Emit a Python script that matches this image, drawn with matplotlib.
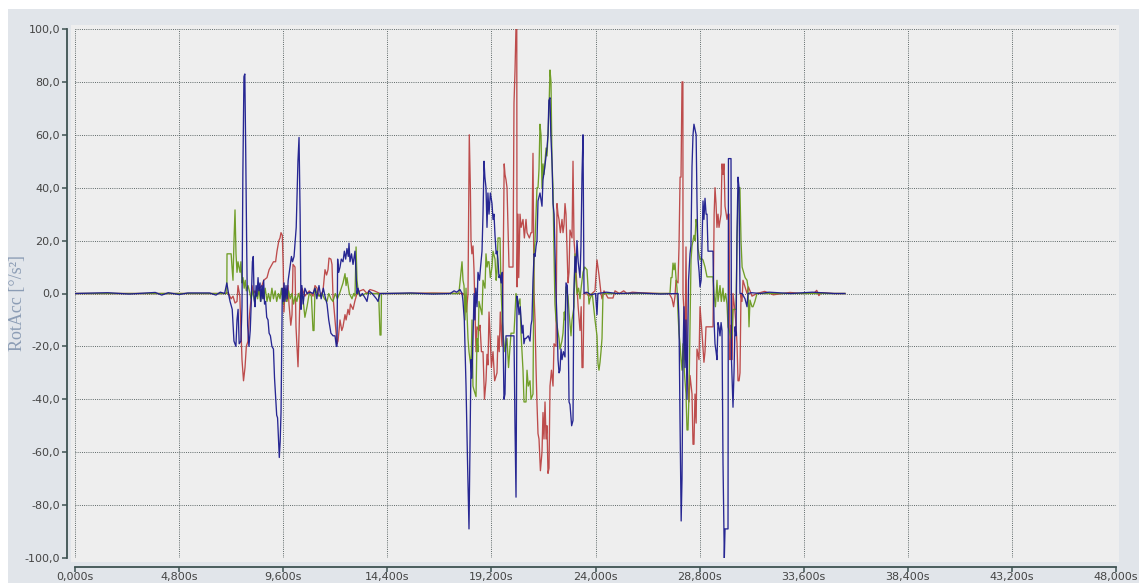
import matplotlib
matplotlib.use("Agg")
import matplotlib.pyplot as plt
from matplotlib.patches import Rectangle
from matplotlib.ticker import FuncFormatter
import numpy as np

# ---------------- data (time [s], RotAcc [deg/s^2]) ----------------
blue_base = [(0, 0), (1500, 0.3), (2500, -0.2), (3700, 0.4), (4000, -0.6), (4300, 0.3),
             (4800, -0.4), (5200, 0.2), (6200, 0.2), (6500, -0.6), (6700, 0.5), (6900, 0)]
blue_b1 = [(7000, 4), (7100, -1), (7150, -3), (7250, -6), (7330, -18), (7420, -20), (7470, -10),
           (7520, -6), (7570, -19), (7650, -18), (7700, -5), (7740, 45), (7790, 82), (7830, 83),
           (7870, 55), (7920, 15), (7960, -12), (8020, -20), (8080, -14), (8120, -5), (8180, 12),
           (8220, 14), (8260, -2), (8300, -5), (8350, 3), (8390, -1), (8440, 6), (8480, 1),
           (8530, 4), (8570, -3), (8620, 3), (8660, -2), (8700, 5), (8740, -4), (8790, -3),
           (8840, -9), (8900, -10), (8950, -15), (9010, -16), (9080, -20), (9150, -21),
           (9200, -32), (9260, -40), (9300, -46), (9340, -47), (9380, -55), (9420, -62),
           (9460, -56), (9500, -45), (9530, -20), (9560, 2), (9600, -3), (9640, 4), (9680, -3),
           (9730, 3), (9780, -2), (9830, 5), (9880, 8), (9930, 11), (9980, 14), (10030, 12),
           (10100, 14), (10200, 25), (10280, 50), (10330, 59), (10380, 30), (10420, -6),
           (10460, 3), (10520, -4), (10600, 2), (10700, 0), (10850, 0.5), (10974, 0),
           (11066, 2), (11150, -2), (11250, 3), (11350, -2), (11450, 2), (11528, -1),
           (11620, -4), (11700, -10), (11800, -15), (11900, -16), (11989, -16), (12050, -20),
           (12081, -20), (12110, 13), (12160, 8), (12219, 10), (12280, 13), (12357, 12),
           (12420, 16), (12480, 13), (12540, 17), (12600, 14), (12634, 19), (12680, 12),
           (12750, 15), (12820, 11), (12911, 16), (12957, 8), (13003, 0), (13049, 2),
           (13150, -1), (13250, 0), (13400, -2), (13464, -3), (13550, 1), (13700, 0),
           (13900, -2), (13971, -3), (14064, 0), (14300, 0)]
blue_mid1 = [(15500, 0.2), (16500, -0.2), (17300, 0), (17480, 1), (17600, 0.5), (17750, 1.5),
             (17850, 0)]
blue_b2 = [(17891, -3), (17950, -10), (18030, -35), (18100, -64), (18167, -89), (18210, -60),
           (18260, -25), (18300, -32), (18352, -17), (18400, 0), (18440, -10), (18480, 2),
           (18536, -5), (18582, 8), (18650, 5), (18700, 10), (18767, 16), (18813, 30),
           (18860, 50), (18900, 44), (18951, 40), (18997, 25), (19040, 38), (19090, 30),
           (19150, 38), (19228, 34), (19274, 28), (19320, 30), (19366, 22), (19420, 15),
           (19458, 16), (19500, 13), (19551, 6), (19597, 7), (19650, 4), (19700, 8),
           (19735, -15), (19780, -40), (19827, -38), (19873, -16), (19966, -16), (20100, -16),
           (20242, -16), (20288, -50), (20335, -77), (20381, -1), (20427, -3), (20473, -8),
           (20530, -5), (20611, -15), (20657, -12), (20700, -19), (20750, -17), (20796, -17),
           (20900, -16), (20980, -18), (21026, -12), (21070, -10), (21118, 5), (21170, 15),
           (21211, 14), (21260, 18), (21303, 20), (21349, 35), (21440, 38), (21533, 33),
           (21579, 43), (21650, 47), (21720, 52), (21764, 55), (21810, 60), (21850, 73),
           (21902, 74), (21940, 60), (21994, 50), (22041, 34), (22090, 30), (22133, 15),
           (22180, 0), (22225, -10), (22271, -25), (22320, -30), (22363, -29), (22410, -21),
           (22456, -25), (22520, -22), (22594, -24), (22640, 4), (22700, 3), (22732, -10),
           (22780, -41), (22824, -42), (22900, -50), (22963, -48), (23000, 0), (23055, 14),
           (23100, 8), (23147, 20), (23200, 12), (23286, 6), (23330, 18), (23378, 45),
           (23424, 60), (23470, 0), (23600, 0.5), (23800, -0.5), (24000, 0), (24069, -8),
           (24110, 0), (24500, 0.5), (25000, 0)]
blue_mid2 = [(26000, 0.2), (27000, -0.2), (27700, 0)]
blue_b3 = [(27804, 0), (27850, -10), (27897, -48), (27950, -86), (27989, -70), (28035, -23),
           (28080, -5), (28127, -28), (28170, -10), (28219, -40), (28250, -20), (28290, 5),
           (28358, 15), (28400, 18), (28450, 48), (28496, 60), (28540, 64), (28588, 62),
           (28640, 60), (28680, 35), (28727, 13), (28780, 8), (28819, 2.5), (28870, 5),
           (28911, 20), (28957, 35), (29000, 28), (29049, 36), (29100, 30), (29142, 30),
           (29188, 16), (29300, 16), (29418, 16), (29464, -10), (29510, -19), (29560, -22),
           (29602, -25), (29649, -11), (29700, -13), (29741, -16), (29790, -11), (29833, -14),
           (29879, -64), (29940, -100), (29972, -89), (30064, -89), (30110, -89), (30130, 51),
           (30200, 51), (30248, 51), (30270, -25), (30340, -43), (30386, -30), (30430, -12.6),
           (30479, -16), (30525, 23), (30571, 44), (30617, 40), (30663, 0), (30755, 0),
           (30894, -2), (30986, -5), (31032, 0)]
blue_tail = [(31200, 0.3), (31600, 0), (32000, 0.5), (33000, 0), (34000, 0.5), (35000, 0),
             (35500, 0)]

red_base = [(0, 0), (6900, 0)]
red_b1 = [(7055, 0.3), (7200, -2), (7285, -1), (7378, -3.6), (7470, -3), (7516, 3), (7600, -1),
          (7700, -25), (7770, -33), (7839, -28), (7900, -20), (7977, -18), (8030, -10),
          (8069, -6), (8120, -2), (8161, 3), (8230, 0), (8300, 1), (8392, -1), (8500, 2),
          (8623, 3), (8700, 5), (8853, 6), (8950, 9), (9084, 11), (9150, 12), (9250, 12),
          (9314, 16), (9400, 20), (9453, 21), (9499, 23), (9560, 22), (9600, 10), (9637, -7),
          (9683, 2), (9750, -3), (9821, 3), (9867, -4), (9950, -12), (10006, -8), (10052, 11),
          (10144, 10), (10190, -12.6), (10236, -20), (10283, -27.7), (10330, -15), (10375, 0),
          (10467, 2), (10600, -1), (10800, 1), (10974, -1), (11066, 3), (11159, 2), (11205, 0),
          (11300, -1), (11435, 1), (11528, 9), (11600, 7), (11666, 9), (11712, 13.4),
          (11800, 13), (11850, 11), (11896, -1), (11990, -10), (12081, -19), (12127, -18),
          (12220, -10), (12300, -14), (12357, -12.6), (12450, -8), (12500, -10), (12588, -6),
          (12650, -8), (12700, -4), (12819, -6), (12900, -3), (13003, 0), (13141, 1),
          (13300, 1.5), (13464, 0), (13600, 1.5), (13800, 1), (14064, 0)]
red_mid1 = [(15000, 0), (16500, 0.2), (17900, 0)]
red_b2 = [(17983, -1), (18050, -7), (18121, 0), (18180, 60), (18230, 40), (18260, 20),
          (18300, 15), (18352, 18), (18398, 9), (18444, -7), (18490, -22), (18536, -12.6),
          (18628, -14), (18675, -12), (18740, -22), (18813, -22), (18880, -40), (18951, -33),
          (18997, -23), (19043, -27), (19090, -7), (19136, -15), (19200, -28), (19274, -22),
          (19350, -33), (19458, -30), (19504, -16), (19560, -22), (19610, -7), (19689, -20),
          (19735, 5), (19790, 49), (19827, 45), (19873, 43), (19920, 40), (19966, 25),
          (20012, 10), (20196, 10), (20242, 72), (20288, 84), (20335, 101), (20370, 101),
          (20381, 2.5), (20427, 30), (20460, 6), (20519, 30), (20570, 25), (20657, 28),
          (20720, 21), (20796, 28), (20842, 23), (20950, 21), (21026, 23), (21072, 23),
          (21118, 53), (21165, 0), (21211, -10), (21257, -28), (21300, -41), (21349, -53),
          (21395, -55), (21460, -67), (21533, -60), (21579, -45), (21625, -55), (21672, -41),
          (21720, -55), (21764, -50), (21810, -68), (21856, -66), (21902, -35), (21970, -29),
          (22041, -35), (22087, -19), (22179, -20), (22225, 34), (22271, 30), (22317, 28),
          (22380, 23), (22456, 28), (22502, 23), (22548, 26), (22594, 34), (22640, 30),
          (22686, 17.6), (22732, 4), (22778, 8), (22824, 24), (22917, 21), (22963, 50),
          (23009, 20), (23055, 15), (23147, 2.5), (23200, -5), (23286, -14), (23340, -5),
          (23378, -28), (23424, -28), (23470, 0), (23516, 0.5), (23700, -1), (23977, 1),
          (24069, 12.7), (24115, 10), (24161, 7), (24253, 0), (24300, -2), (24392, 1),
          (24530, -1), (24576, -1.7), (24807, -1.7), (24899, 1), (25100, 0), (25300, 1),
          (25453, 0), (25700, 0.5), (26000, 0.3), (26974, 0)]
red_b3 = [(27400, 0), (27528, -2), (27600, -5), (27666, -1), (27712, 5), (27804, 4),
          (27850, 17.6), (27900, 44), (27943, 44), (27989, 80), (28030, 80), (28035, 0),
          (28081, -7), (28127, -25), (28173, 17.6), (28219, -25), (28265, -35), (28311, -41),
          (28358, -31), (28450, -38), (28496, -57), (28540, -57), (28588, -38), (28640, -49),
          (28680, -21), (28773, -25), (28819, -5), (28911, -15), (28957, -21), (29000, -26),
          (29049, -22), (29095, -12.6), (29188, -12.6), (29418, -12.6), (29470, 30),
          (29510, 40), (29557, 34), (29600, 25), (29649, 30), (29695, 25), (29787, 30),
          (29833, 49), (29880, 45), (29926, 49), (29972, 33), (30064, 28), (30110, 30),
          (30156, 30), (30202, -25), (30248, -12), (30300, -25), (30340, 0), (30433, -7),
          (30479, -12), (30525, -19), (30571, -33), (30620, -33), (30663, -30), (30709, 0),
          (30755, -3), (30801, 5), (30894, 2.5), (30986, 0), (31050, 2.5), (31124, 1),
          (31216, -1), (31447, 0)]
red_tail = [(31800, 0.8), (32200, -0.5), (32969, 0.4), (33500, 0), (34100, 0.3), (34200, 1.2),
            (34300, -0.8), (34400, 0.3), (35000, 0), (35500, 0)]

green_base = [(0, 0), (6900, 0), (7000, 0)]
green_b1 = [(7009, 15), (7200, 15), (7239, 10), (7285, 5), (7331, 20), (7378, 31.6), (7424, 15),
            (7470, 8), (7516, 12), (7560, 10), (7608, 8), (7650, 12), (7700, 4), (7746, 6),
            (7800, 2), (7850, 5), (7900, 1), (7977, 3), (8069, 0), (8120, -2), (8200, 1),
            (8280, -3), (8350, 0), (8420, -2), (8480, 2), (8550, -3), (8620, 1), (8700, -2),
            (8770, 2), (8853, -3), (8920, 0), (9000, -3), (9080, 2), (9150, -2), (9230, 1),
            (9300, -3), (9380, 0), (9453, -2), (9520, 2), (9600, -4), (9680, 0), (9775, -3),
            (9850, 1), (9920, -2), (10000, 0), (10080, -4), (10150, -1), (10230, -3),
            (10300, 0), (10375, -2), (10450, 0), (10513, -2), (10600, -9), (10698, -5),
            (10800, 0), (10900, -1), (10974, -14), (11020, -14), (11066, 2), (11159, 0),
            (11250, -1), (11400, 0), (11500, -2), (11620, -3), (11700, 0), (11800, -2),
            (11896, -3), (12000, 0), (12100, -2), (12200, 0), (12357, 4), (12450, 7.5),
            (12500, 3), (12542, 6), (12650, 0), (12772, -2), (12850, 0), (12911, -1),
            (12960, 17.6), (13003, 5), (13070, 0), (13141, -1), (13400, 0), (13600, 0),
            (14000, 0), (14064, -15.7), (14110, -15.7), (14130, 0)]
green_mid1 = [(16000, 0), (17700, 0)]
green_b2 = [(17845, 12), (17891, 5), (17937, 3), (17983, -10), (18029, 2), (18121, -17),
            (18167, -22), (18260, -28), (18306, -10), (18350, -35), (18398, -36.5), (18490, -39),
            (18536, -17), (18582, -22), (18628, -3), (18767, -8), (18813, 5), (18905, 2),
            (18951, 15), (19000, 10), (19043, 12), (19090, 12), (19150, 6), (19228, 10),
            (19274, 16), (19366, 13), (19420, 5), (19458, 8), (19504, 21), (19597, 21),
            (19643, 2.5), (19700, -10), (19735, -15), (19820, -22), (19920, -17), (19990, -28),
            (20058, -20), (20104, -15), (20242, -15), (20335, 0), (20420, -5), (20519, -2),
            (20565, -15), (20657, -29), (20703, -41), (20796, -41), (20842, -29), (20900, -35),
            (20980, -33), (21026, -40), (21118, -38), (21165, 15), (21211, 20), (21303, 40),
            (21349, 40), (21395, 47), (21440, 64), (21487, 60), (21533, 40), (21580, 49),
            (21625, 45), (21672, 50), (21720, 55), (21764, 52), (21810, 60), (21856, 70),
            (21902, 84.5), (21948, 80), (21994, 50), (22041, 40), (22087, 15), (22130, -4),
            (22179, -10), (22225, -12), (22317, -17), (22363, -21), (22450, -18), (22502, -15),
            (22560, -7), (22594, -10), (22640, 2.5), (22700, 0), (22732, -1), (22778, -7),
            (22871, -16), (22917, -10), (23009, -5), (23055, 15), (23100, 5), (23147, 0),
            (23220, 2), (23286, -2), (23350, 3), (23424, 8), (23500, 10), (23608, 9),
            (23654, 2.5), (23700, -4), (23747, -2), (23850, 0), (23977, -10), (24069, -16),
            (24115, -26.5), (24160, -29), (24208, -26), (24253, -22), (24300, -17), (24346, 0),
            (25000, 0)]
green_b3 = [(27300, 0), (27435, 0), (27480, 6), (27528, 6), (27574, 11.5), (27620, 9),
            (27666, 11.5), (27712, 6), (27758, 2), (27804, -7.5), (27850, -15), (27897, -19),
            (27943, -25), (27989, -29), (28035, -19), (28100, -30), (28173, -38), (28219, -51.6),
            (28265, -51.6), (28311, -38), (28358, -12), (28404, 12.7), (28450, 18), (28496, 20),
            (28540, 22), (28588, 20), (28634, 28), (28680, 26), (28727, 17), (28819, 12.7),
            (28865, 13.4), (28957, 12.7), (29050, 10), (29142, 6.3), (29300, 6.3), (29418, 6.3),
            (29464, 0), (29530, -5), (29602, 5), (29650, -3), (29741, 3), (29800, -3),
            (29879, 2), (29926, -3), (30000, 0), (30064, -4), (30110, -12.6), (30202, -15),
            (30248, -17), (30300, -15), (30340, -6), (30479, -6), (30525, 20), (30571, 35),
            (30617, 40), (30660, 40), (30709, 20), (30760, 10), (30801, 8.8), (30900, 6),
            (30986, 5), (31030, 2.5), (31078, -12.6), (31124, -2.5), (31216, -5), (31263, -5),
            (31350, -3), (31447, 0)]
green_tail = [(32000, 0), (35500, 0)]

x_ticks = [0, 4800, 9600, 14400, 19200, 24000, 28800, 33600, 38400, 43200, 48000]
y_ticks = [-100, -80, -60, -40, -20, 0, 20, 40, 60, 80, 100]
y_label = "RotAcc [°/s²]"

def series(*parts):
    pts = [p for part in parts for p in part]
    arr = np.array(pts, dtype=float)
    return arr[:, 0], arr[:, 1]

red_t, red_v = series(red_base, red_b1, red_mid1, red_b2, red_b3, red_tail)
green_t, green_v = series(green_base, green_b1, green_mid1, green_b2, green_b3, green_tail)
blue_t, blue_v = series(blue_base, blue_b1, blue_mid1, blue_b2, blue_mid2, blue_b3, blue_tail)

# ---------------- figure ----------------
W, H = 1139, 583
PT = 72.0 / 100.0  # points per pixel at dpi=100
fig = plt.figure(figsize=(W / 100, H / 100), dpi=100)
fig.patch.set_facecolor("white")

def px_rect(x0, y0, x1, y1, color):
    fig.patches.append(Rectangle((x0 / W, 1 - y1 / H), (x1 - x0) / W, (y1 - y0) / H,
                                 transform=fig.transFigure, facecolor=color,
                                 edgecolor="none", zorder=-10))

px_rect(8, 9, W, H, "#e1e5ea")
px_rect(71, 25, 1119, 562, "#eeeeee")

ax = fig.add_axes([75 / W, 1 - 558 / H, (1116 - 75) / W, (558 - 29) / H])
ax.set_facecolor("#eeeeee")

ax.plot(red_t, red_v, color="#b83a3a", lw=0.95, alpha=0.9, zorder=3)
ax.plot(green_t, green_v, color="#6a9a1e", lw=0.95, alpha=0.95, zorder=4)
ax.plot(blue_t, blue_v, color="#1c1c8e", lw=0.95, alpha=0.95, zorder=5)

ax.set_xlim(0, 48000)
ax.set_ylim(-100, 100)
ax.set_xticks(x_ticks)
ax.set_yticks(y_ticks)
ax.xaxis.set_major_formatter(FuncFormatter(lambda v, p: f"{v/1000:.3f}".replace(".", ",") + "s"))
ax.yaxis.set_major_formatter(FuncFormatter(lambda v, p: f"{v:.1f}".replace(".", ",")))

ax.grid(True, color="#4a5656", linestyle=(0, (1, 1.4)), linewidth=0.65, zorder=1)
ax.set_axisbelow(True)

spine_col = "#3e5252"
for s in ("top", "right"):
    ax.spines[s].set_visible(False)
ax.spines["left"].set_position(("outward", 8 * PT))
ax.spines["bottom"].set_position(("outward", 8.5 * PT))
for s in ("left", "bottom"):
    ax.spines[s].set_color(spine_col)
    ax.spines[s].set_linewidth(1.3)
ax.tick_params(axis="both", direction="out", length=5 * PT, width=1.1, color=spine_col,
               labelcolor="#444444", labelsize=8)
ax.tick_params(axis="y", pad=1.5)
ax.tick_params(axis="x", pad=0.3)

fig.text(18 / W, 1 - 303 / H, y_label, rotation=90, ha="center", va="center",
         family=["Liberation Serif", "DejaVu Serif"], fontsize=13, color="#8c9db5")

fig.savefig("out.png", dpi=100, facecolor=fig.get_facecolor())
